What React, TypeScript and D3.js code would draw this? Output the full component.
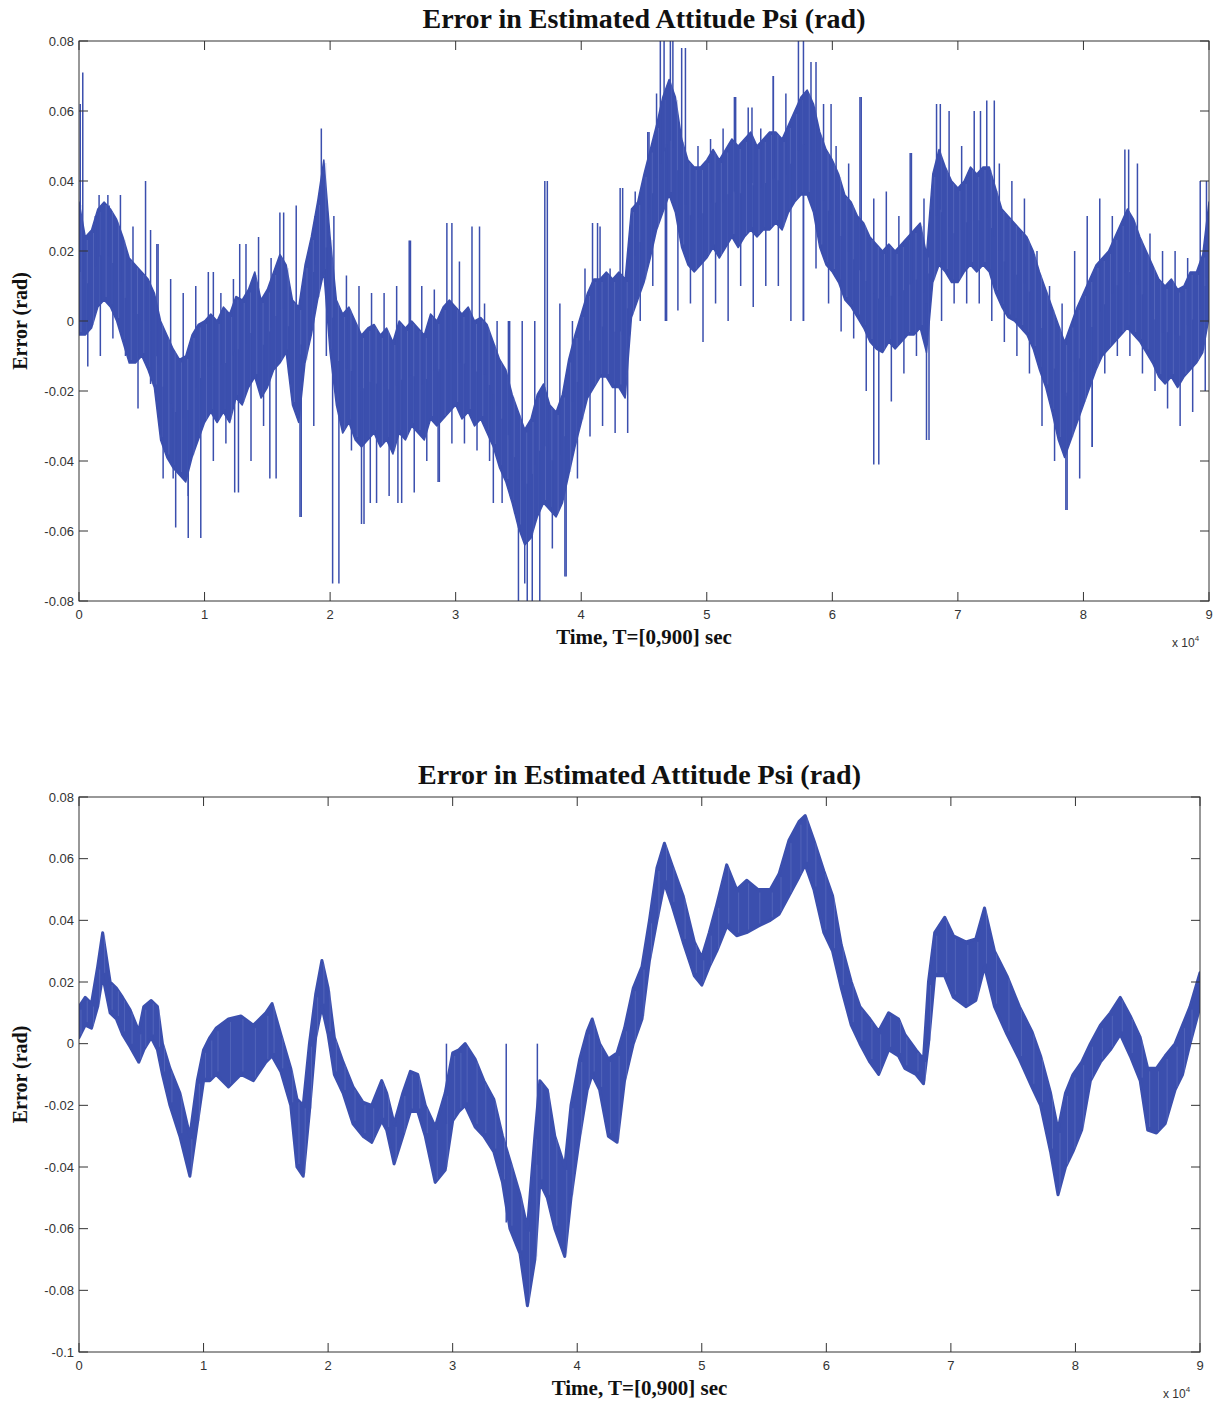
import React from 'react';
import * as d3 from 'd3';

// time axis is in units of 10^4 (matlab "x 10^4")
const STEP = 0.05;

// upper chart: dense core of the noisy signal, sampled every 0.05 (x10^4)
const topLo = [
  -0.004, -0.004, -0.002, 0.004, 0.006, 0.004, 0.000, -0.006, -0.012, -0.012, -0.010, -0.014, -0.019, -0.034, -0.039, -0.042, -0.044, -0.046, -0.039, -0.034,
  -0.029, -0.026, -0.029, -0.026, -0.029, -0.022, -0.024, -0.019, -0.016, -0.022, -0.019, -0.014, -0.012, -0.009, -0.024, -0.029, -0.012, -0.004, 0.006, 0.014,
  -0.009, -0.024, -0.032, -0.029, -0.034, -0.036, -0.034, -0.032, -0.036, -0.034, -0.038, -0.032, -0.034, -0.030, -0.032, -0.034, -0.028, -0.030, -0.028, -0.026,
  -0.024, -0.028, -0.026, -0.030, -0.028, -0.032, -0.036, -0.042, -0.046, -0.052, -0.059, -0.064, -0.062, -0.056, -0.052, -0.054, -0.056, -0.052, -0.044, -0.036,
  -0.029, -0.022, -0.019, -0.016, -0.016, -0.019, -0.019, -0.022, 0.001, 0.006, 0.011, 0.018, 0.026, 0.031, 0.036, 0.031, 0.021, 0.016, 0.014, 0.016,
  0.018, 0.021, 0.018, 0.021, 0.024, 0.021, 0.024, 0.026, 0.024, 0.026, 0.026, 0.028, 0.026, 0.031, 0.034, 0.036, 0.036, 0.031, 0.021, 0.016,
  0.014, 0.011, 0.006, 0.004, 0.001, -0.002, -0.006, -0.008, -0.009, -0.006, -0.008, -0.006, -0.004, -0.004, -0.002, -0.009, 0.011, 0.016, 0.014, 0.011,
  0.011, 0.014, 0.016, 0.014, 0.016, 0.014, 0.008, 0.004, 0.001, 0.000, -0.002, -0.004, -0.008, -0.014, -0.019, -0.026, -0.034, -0.039, -0.034, -0.029,
  -0.024, -0.019, -0.014, -0.010, -0.008, -0.006, -0.004, -0.002, -0.004, -0.006, -0.009, -0.012, -0.016, -0.018, -0.016, -0.019, -0.016, -0.014, -0.012, -0.009,
  0.001,
];
const topHi = [
  0.034, 0.024, 0.026, 0.032, 0.034, 0.032, 0.029, 0.024, 0.018, 0.016, 0.014, 0.012, 0.008, 0.000, -0.004, -0.008, -0.011, -0.010, -0.004, -0.001,
  0.000, 0.002, 0.000, 0.004, 0.002, 0.007, 0.006, 0.009, 0.014, 0.006, 0.009, 0.014, 0.019, 0.016, 0.006, 0.004, 0.016, 0.024, 0.034, 0.046,
  0.024, 0.006, 0.002, 0.004, 0.000, -0.004, -0.002, -0.001, -0.004, -0.002, -0.006, 0.000, -0.002, 0.000, -0.002, -0.004, 0.002, 0.000, 0.004, 0.006,
  0.004, 0.002, 0.004, 0.000, 0.001, -0.001, -0.006, -0.011, -0.014, -0.021, -0.026, -0.031, -0.028, -0.021, -0.018, -0.024, -0.026, -0.021, -0.011, -0.004,
  0.002, 0.008, 0.012, 0.012, 0.014, 0.012, 0.014, 0.012, 0.032, 0.034, 0.042, 0.049, 0.056, 0.064, 0.069, 0.064, 0.052, 0.046, 0.044, 0.044,
  0.046, 0.049, 0.046, 0.049, 0.052, 0.050, 0.052, 0.054, 0.050, 0.052, 0.054, 0.054, 0.052, 0.056, 0.060, 0.064, 0.066, 0.062, 0.054, 0.049,
  0.046, 0.042, 0.036, 0.034, 0.030, 0.028, 0.024, 0.022, 0.020, 0.022, 0.020, 0.022, 0.024, 0.026, 0.028, 0.019, 0.042, 0.049, 0.044, 0.040,
  0.038, 0.040, 0.044, 0.042, 0.044, 0.044, 0.038, 0.032, 0.030, 0.028, 0.026, 0.024, 0.020, 0.014, 0.009, 0.004, -0.001, -0.006, -0.001, 0.004,
  0.008, 0.012, 0.016, 0.018, 0.020, 0.024, 0.028, 0.032, 0.029, 0.024, 0.020, 0.016, 0.012, 0.010, 0.012, 0.009, 0.010, 0.014, 0.014, 0.019,
  0.034,
];
const topTimes = topLo.map((_, i) => +(i * STEP).toFixed(2));

// upper chart: highest / lowest excursion in each 0.1 (x10^4) bin
const topUp = [
  0.071, 0.030, 0.036, 0.036, 0.027, 0.040, 0.022, 0.012, 0.008, 0.010,
  0.014, 0.008, 0.012, 0.022, 0.024, 0.018, 0.031, 0.033, 0.012, 0.055,
  0.030, 0.013, 0.010, 0.008, 0.008, 0.010, 0.023, 0.010, 0.009, 0.028,
  0.017, 0.027, 0.005, 0.000, 0.000, 0.000, 0.000, 0.040, 0.005, 0.000,
  0.015, 0.028, 0.015, 0.038, 0.037, 0.054, 0.080, 0.080, 0.078, 0.050,
  0.052, 0.055, 0.064, 0.061, 0.055, 0.070, 0.065, 0.080, 0.074, 0.062,
  0.050, 0.045, 0.064, 0.035, 0.037, 0.030, 0.048, 0.035, 0.062, 0.060,
  0.050, 0.060, 0.063, 0.045, 0.040, 0.035, 0.020, 0.010, 0.005, 0.020,
  0.030, 0.035, 0.030, 0.049, 0.045, 0.025, 0.020, 0.020, 0.018, 0.040,
];
const topDown = [
  -0.013, -0.010, -0.005, -0.010, -0.025, -0.018, -0.045, -0.059, -0.050, -0.062,
  -0.040, -0.035, -0.049, -0.040, -0.030, -0.045, -0.015, -0.056, -0.030, -0.010,
  -0.075, -0.037, -0.058, -0.052, -0.050, -0.052, -0.049, -0.040, -0.046, -0.035,
  -0.035, -0.037, -0.040, -0.052, -0.055, -0.080, -0.080, -0.065, -0.073, -0.045,
  -0.033, -0.030, -0.032, -0.032, 0.000, 0.010, 0.000, 0.003, 0.005, -0.006,
  0.005, 0.000, 0.010, 0.004, 0.010, 0.010, 0.000, 0.000, 0.015, 0.005,
  -0.003, -0.005, -0.020, -0.041, -0.023, -0.015, -0.010, -0.034, 0.000, 0.005,
  0.005, 0.005, 0.000, -0.006, -0.010, -0.015, -0.030, -0.040, -0.054, -0.045,
  -0.036, -0.015, -0.010, -0.010, -0.015, -0.020, -0.025, -0.030, -0.026, -0.020,
];
const binTimes = topUp.map((_, i) => +(i * 0.1).toFixed(1));

// upper chart: further isolated spikes [time, value]
const topSpikes: [number, number][] = [
  [0.01, 0.062], [0.16, 0.036], [0.24, 0.033], [0.57, 0.026], [0.62, 0.022], [0.75, -0.045], [0.87, -0.062],
  [1.07, 0.014], [1.24, -0.049], [1.28, 0.022], [1.52, -0.045], [1.60, 0.031], [1.76, -0.056], [1.88, 0.030],
  [2.02, -0.075], [2.25, -0.058], [2.32, -0.052], [2.54, -0.052], [2.64, 0.023], [2.86, -0.046], [2.97, 0.028],
  [3.19, 0.027], [3.30, -0.052], [3.42, 0.000], [3.50, -0.080], [3.55, -0.075], [3.61, -0.080], [3.71, 0.040],
  [3.88, -0.073], [4.09, 0.028], [4.15, 0.027], [4.31, 0.038], [4.54, 0.054], [4.60, 0.065], [4.66, 0.080],
  [4.68, 0.000], [4.71, 0.080], [4.80, 0.078], [5.22, 0.064], [5.36, 0.061], [5.53, 0.070], [5.77, 0.080],
  [5.77, 0.000], [5.87, 0.074], [5.99, 0.062], [6.22, 0.064], [6.33, -0.041], [6.62, 0.048], [6.75, -0.034],
  [6.86, 0.062], [7.18, 0.060], [7.29, 0.063], [7.86, -0.054], [8.07, -0.036], [8.36, 0.049], [8.98, 0.040],
];

// lower chart: band of the thick noisy line at read-off times
const bottomTimes = [
  0.00, 0.05, 0.10, 0.15, 0.19, 0.25, 0.30, 0.35, 0.41, 0.48, 0.52, 0.58, 0.63, 0.67, 0.73, 0.81, 0.89, 0.95,
  1.00, 1.05, 1.10, 1.20, 1.30, 1.40, 1.50, 1.55, 1.62, 1.70, 1.75, 1.80, 1.85, 1.90, 1.95,
  2.00, 2.05, 2.12, 2.20, 2.28, 2.35, 2.43, 2.47, 2.53, 2.60, 2.66, 2.72, 2.78, 2.86, 2.94,
  3.00, 3.05, 3.10, 3.18, 3.25, 3.33, 3.40, 3.46, 3.54, 3.60, 3.66, 3.70, 3.76, 3.82, 3.90, 3.95,
  4.02, 4.08, 4.12, 4.18, 4.25, 4.32, 4.38, 4.45, 4.52, 4.58, 4.64, 4.70, 4.76, 4.85, 4.94,
  5.00, 5.06, 5.12, 5.20, 5.28, 5.36, 5.45, 5.55, 5.62, 5.70, 5.78, 5.83, 5.90, 5.98,
  6.05, 6.12, 6.20, 6.27, 6.35, 6.42, 6.50, 6.58, 6.63, 6.72, 6.78, 6.82, 6.87, 6.95,
  7.02, 7.12, 7.20, 7.27, 7.35, 7.45, 7.55, 7.65, 7.72, 7.80, 7.86, 7.92, 7.98,
  8.05, 8.12, 8.20, 8.28, 8.36, 8.44, 8.52, 8.58, 8.65, 8.72, 8.80, 8.86, 8.92, 9.00,
];
const bottomLo = [
  0.002, 0.006, 0.005, 0.012, 0.022, 0.010, 0.008, 0.003, -0.001, -0.006, -0.002, 0.002, -0.002, -0.010, -0.020, -0.030, -0.043, -0.026,
  -0.012, -0.012, -0.010, -0.014, -0.010, -0.012, -0.006, -0.004, -0.009, -0.020, -0.040, -0.043, -0.022, 0.002, 0.012,
  0.003, -0.010, -0.016, -0.026, -0.030, -0.032, -0.025, -0.028, -0.039, -0.030, -0.022, -0.022, -0.030, -0.045, -0.041,
  -0.025, -0.022, -0.020, -0.027, -0.030, -0.035, -0.045, -0.060, -0.068, -0.085, -0.070, -0.045, -0.050, -0.060, -0.069, -0.050,
  -0.030, -0.015, -0.010, -0.015, -0.030, -0.032, -0.012, 0.000, 0.008, 0.027, 0.040, 0.052, 0.045, 0.033, 0.022,
  0.019, 0.025, 0.030, 0.038, 0.035, 0.036, 0.038, 0.040, 0.042, 0.048, 0.054, 0.058, 0.050, 0.036,
  0.030, 0.018, 0.006, 0.000, -0.006, -0.010, -0.002, -0.004, -0.008, -0.010, -0.013, 0.000, 0.022, 0.022,
  0.015, 0.012, 0.014, 0.025, 0.012, 0.003, -0.005, -0.014, -0.020, -0.035, -0.049, -0.040, -0.035,
  -0.028, -0.012, -0.006, -0.002, 0.003, -0.004, -0.012, -0.028, -0.029, -0.026, -0.015, -0.010, 0.000, 0.012,
];
const bottomHi = [
  0.012, 0.015, 0.013, 0.025, 0.036, 0.020, 0.018, 0.015, 0.011, 0.004, 0.012, 0.014, 0.012, 0.000, -0.008, -0.016, -0.030, -0.012,
  -0.002, 0.002, 0.005, 0.008, 0.009, 0.006, 0.010, 0.013, 0.003, -0.008, -0.018, -0.020, 0.000, 0.016, 0.027,
  0.018, 0.002, -0.006, -0.014, -0.019, -0.020, -0.012, -0.016, -0.026, -0.016, -0.009, -0.010, -0.020, -0.027, -0.016,
  -0.003, -0.002, 0.000, -0.005, -0.012, -0.018, -0.030, -0.038, -0.049, -0.060, -0.030, -0.012, -0.015, -0.030, -0.040, -0.020,
  -0.005, 0.004, 0.008, 0.000, -0.005, -0.003, 0.005, 0.018, 0.025, 0.040, 0.057, 0.065, 0.058, 0.048, 0.033,
  0.028, 0.036, 0.045, 0.058, 0.050, 0.053, 0.050, 0.050, 0.055, 0.066, 0.072, 0.074, 0.066, 0.056,
  0.048, 0.032, 0.020, 0.012, 0.008, 0.004, 0.010, 0.008, 0.003, -0.002, -0.005, 0.020, 0.036, 0.041,
  0.035, 0.033, 0.034, 0.044, 0.030, 0.022, 0.012, 0.004, -0.004, -0.016, -0.028, -0.016, -0.010,
  -0.006, 0.000, 0.006, 0.010, 0.015, 0.009, 0.002, -0.008, -0.008, -0.004, 0.000, 0.006, 0.012, 0.023,
];
const bottomSpikes: [number, number][] = [
  [2.95, 0.000], [3.43, 0.000], [3.43, -0.058], [3.68, 0.000],
];

const xTicks = d3.range(0, 10);
const topYTicks = [-0.08, -0.06, -0.04, -0.02, 0, 0.02, 0.04, 0.06, 0.08];
const bottomYTicks = [-0.1, -0.08, -0.06, -0.04, -0.02, 0, 0.02, 0.04, 0.06, 0.08];

const TITLE = 'Error in Estimated Attitude Psi (rad)';
const XLABEL = 'Time, T=[0,900] sec';
const YLABEL = 'Error (rad)';

const BLUE = '#3b4fae';
const STREAK = '#7b8ad0';
const AXIS = '#333';
const SERIF = '"Liberation Serif", "Times New Roman", serif';
const SANS = '"Liberation Sans", Arial, sans-serif';

type Box = { x0: number; x1: number; y0: number; y1: number };

function Panel({ id, box, yDomain, yTicks, times, lo, hi, spikes, up, down, titleY, edge }: {
  id: string; box: Box; yDomain: [number, number]; yTicks: number[];
  times: number[]; lo: number[]; hi: number[]; spikes: [number, number][];
  up?: number[]; down?: number[]; titleY: number; edge: number;
}) {
  const x = d3.scaleLinear().domain([0, 9]).range([box.x0, box.x1]);
  const y = d3.scaleLinear().domain(yDomain).range([box.y1, box.y0]);

  const idx = times.map((_, i) => i);
  const area = d3.area<number>()
    .x(i => x(times[i]))
    .y0(i => y(lo[i]))
    .y1(i => y(hi[i]));

  const bis = d3.bisector((d: number) => d).left;
  const mid = (t: number) => {
    const j = Math.min(Math.max(bis(times, t), 1), times.length - 1);
    const f = (t - times[j - 1]) / (times[j] - times[j - 1]);
    const a = (lo[j - 1] + hi[j - 1]) / 2;
    const b = (lo[j] + hi[j]) / 2;
    return a + (b - a) * f;
  };

  // bins: up spike near the start of the bin, down spike in the second half
  const binSpikes: [number, number][] = [];
  if (up && down) {
    binTimes.forEach((t, i) => {
      binSpikes.push([t + 0.03, up[i]]);
      binSpikes.push([t + 0.07, down[i]]);
    });
  }
  const allSpikes = binSpikes.concat(spikes);

  const fmt = (v: number) => String(+v.toFixed(2));
  const tick = 9;
  const cx = (box.x0 + box.x1) / 2;

  return (
    <g>
      <defs>
        <clipPath id={id}>
          <rect x={box.x0} y={box.y0} width={box.x1 - box.x0} height={box.y1 - box.y0} />
        </clipPath>
      </defs>
      <g clipPath={`url(#${id})`}>
        <path d={area(idx) || ''} fill={BLUE} stroke={BLUE} strokeWidth={edge} strokeLinejoin="round" />
        {/* faint lighter streaks inside the dense band */}
        {idx.map(i => (
          <line key={`s${i}`} x1={x(times[i]) + 2} x2={x(times[i]) + 2}
            y1={y(hi[i]) + 3} y2={y(lo[i]) - 3} stroke={STREAK} strokeWidth={0.8} opacity={0.45} />
        ))}
        {allSpikes.map(([t, v], i) => (
          <line key={i} x1={x(t)} x2={x(t)} y1={y(mid(t))} y2={y(v)} stroke={BLUE} strokeWidth={1.5} />
        ))}
      </g>
      <rect x={box.x0} y={box.y0} width={box.x1 - box.x0} height={box.y1 - box.y0} fill="none" stroke={AXIS} strokeWidth={1} />
      {xTicks.map(t => (
        <g key={`x${t}`}>
          <line x1={x(t)} x2={x(t)} y1={box.y1} y2={box.y1 - tick} stroke={AXIS} />
          <line x1={x(t)} x2={x(t)} y1={box.y0} y2={box.y0 + tick} stroke={AXIS} />
          <text x={x(t)} y={box.y1 + 18} textAnchor="middle" fontFamily={SANS} fontSize={13} fill="#333">{t}</text>
        </g>
      ))}
      {yTicks.map(v => (
        <g key={`y${v}`}>
          <line x1={box.x0} x2={box.x0 + tick} y1={y(v)} y2={y(v)} stroke={AXIS} />
          <line x1={box.x1} x2={box.x1 - tick} y1={y(v)} y2={y(v)} stroke={AXIS} />
          <text x={box.x0 - 5} y={y(v) + 4.5} textAnchor="end" fontFamily={SANS} fontSize={13} fill="#333">{fmt(v)}</text>
        </g>
      ))}
      <text x={cx} y={titleY} textAnchor="middle" fontFamily={SERIF} fontWeight="bold" fontSize={28} fill="#111">{TITLE}</text>
      <text x={cx} y={box.y1 + 43} textAnchor="middle" fontFamily={SERIF} fontWeight="bold" fontSize={21} fill="#111">{XLABEL}</text>
      <text transform={`translate(27,${(box.y0 + box.y1) / 2}) rotate(-90)`} textAnchor="middle" fontFamily={SERIF} fontWeight="bold" fontSize={20} fill="#111">{YLABEL}</text>
      <text x={box.x1 - 37} y={box.y1 + 46} fontFamily={SANS} fontSize={12} fill="#333">
        x 10<tspan dy={-6} fontSize={8}>4</tspan>
      </text>
    </g>
  );
}

export default function App() {
  return (
    <svg width={1216} height={1405} style={{ position: 'absolute', left: 0, top: 0, background: '#fff' }}>
      <rect width={1216} height={1405} fill="#fff" />
      <Panel id="clipTop" box={{ x0: 79, x1: 1209, y0: 41, y1: 601 }} yDomain={[-0.08, 0.08]} yTicks={topYTicks}
        times={topTimes} lo={topLo} hi={topHi} spikes={topSpikes} up={topUp} down={topDown} titleY={28} edge={1.5} />
      <Panel id="clipBottom" box={{ x0: 79, x1: 1200, y0: 797, y1: 1352 }} yDomain={[-0.1, 0.08]} yTicks={bottomYTicks}
        times={bottomTimes} lo={bottomLo} hi={bottomHi} spikes={bottomSpikes} titleY={784} edge={3} />
    </svg>
  );
}
